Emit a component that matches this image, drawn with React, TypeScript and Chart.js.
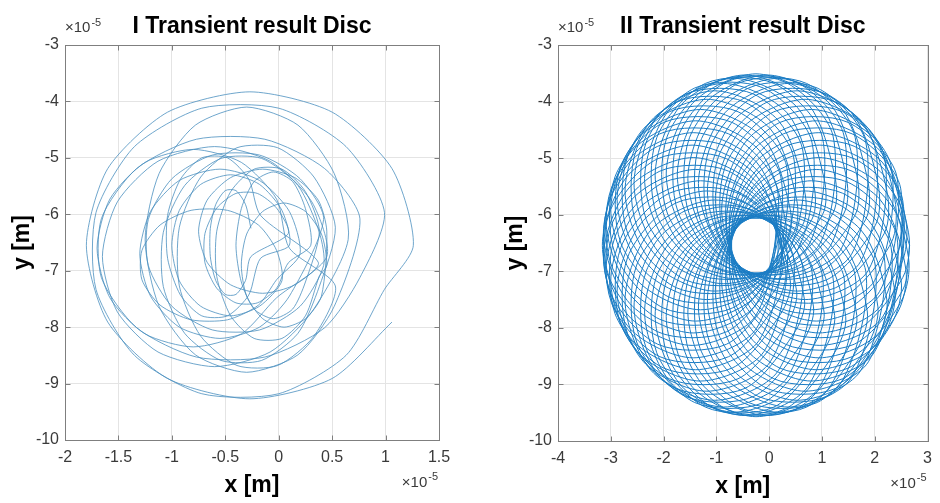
import React, { useEffect, useRef } from "react";
import { Chart, registerables } from "chart.js";

Chart.register(...registerables);

// ---- text ----
const TITLE_I = "I Transient result Disc";
const TITLE_II = "II Transient result Disc";
const X_LABEL = "x [m]";
const Y_LABEL = "y [m]";
const EXP_BASE = "\u00d710";
const EXP_POWER = "-5";

// ---- ticks (values in units of 1e-5 m) ----
const X_TICKS_I = [-2, -1.5, -1, -0.5, 0, 0.5, 1, 1.5];
const X_TICKS_II = [-4, -3, -2, -1, 0, 1, 2, 3];
const Y_TICKS = [-10, -9, -8, -7, -6, -5, -4, -3];

// ---- orbit I (x, y) in units of 1e-5 m ----
const ORBIT_I: number[][] = [
  [-0.26, -6.25], [-0.31, -5.83], [-0.4, -5.58], [-0.5, -5.58], [-0.59, -5.83], [-0.64, -6.25], [-0.64, -6.75], [-0.59, -7.17], [-0.5, -7.42], [-0.4, -7.42], [-0.31, -7.17], [-0.26, -6.75],
  [0.09, -6.34], [-0.02, -5.89], [-0.2, -5.63], [-0.4, -5.63], [-0.58, -5.89], [-0.69, -6.34], [-0.69, -6.86], [-0.58, -7.31], [-0.4, -7.57], [-0.2, -7.57], [-0.02, -7.31], [0.09, -6.86],
  [0.3, -6.55], [0.25, -5.9], [0.13, -5.42], [-0.05, -5.25], [-0.23, -5.42], [-0.35, -5.9], [-0.4, -6.55], [-0.35, -7.2], [-0.23, -7.68], [-0.05, -7.85], [0.13, -7.68], [0.25, -7.2],
  [0.38, -6.3], [0.25, -5.6], [0.03, -5.2], [-0.23, -5.2], [-0.45, -5.6], [-0.58, -6.3], [-0.58, -7.1], [-0.45, -7.8], [-0.23, -8.2], [0.03, -8.2], [0.25, -7.8], [0.38, -7.1],
  [0.45, -6.9], [0.4, -6.35], [0.25, -5.95], [0.05, -5.8], [-0.15, -5.95], [-0.3, -6.35], [-0.35, -6.9], [-0.3, -7.45], [-0.15, -7.85], [0.05, -8.0], [0.25, -7.85], [0.4, -7.45],
  [0.45, -6.3], [0.37, -5.75], [0.15, -5.35], [-0.15, -5.2], [-0.45, -5.35], [-0.67, -5.75], [-0.75, -6.3], [-0.67, -6.85], [-0.45, -7.25], [-0.15, -7.4], [0.15, -7.25], [0.37, -6.85],
  [-0.17, -6.02], [-0.28, -5.38], [-0.48, -5.0], [-0.72, -5.0], [-0.92, -5.38], [-1.04, -6.02], [-1.04, -6.78], [-0.92, -7.43], [-0.72, -7.8], [-0.48, -7.8], [-0.28, -7.43], [-0.17, -6.78],
  [0.1, -6.55], [0.03, -5.93], [-0.18, -5.47], [-0.45, -5.3], [-0.73, -5.47], [-0.93, -5.93], [-1.0, -6.55], [-0.93, -7.18], [-0.73, -7.63], [-0.45, -7.8], [-0.18, -7.63], [0.03, -7.18],
  [-0.02, -6.64], [-0.19, -6.19], [-0.48, -5.93], [-0.82, -5.93], [-1.11, -6.19], [-1.28, -6.64], [-1.28, -7.16], [-1.11, -7.61], [-0.82, -7.87], [-0.48, -7.87], [-0.19, -7.61], [-0.02, -7.16],
  [0.2, -6.7], [0.1, -5.95], [-0.18, -5.4], [-0.55, -5.2], [-0.93, -5.4], [-1.2, -5.95], [-1.3, -6.7], [-1.2, -7.45], [-0.93, -8.0], [-0.55, -8.2], [-0.18, -8.0], [0.1, -7.45],
  [0.42, -6.09], [0.2, -5.37], [-0.18, -4.95], [-0.62, -4.95], [-1.0, -5.37], [-1.22, -6.09], [-1.22, -6.91], [-1.0, -7.63], [-0.62, -8.05], [-0.18, -8.05], [0.2, -7.63], [0.42, -6.91],
  [0.38, -6.32], [0.18, -5.49], [-0.16, -5.01], [-0.54, -5.01], [-0.88, -5.49], [-1.08, -6.32], [-1.08, -7.28], [-0.88, -8.11], [-0.54, -8.59], [-0.16, -8.59], [0.18, -8.11], [0.38, -7.28],
  [0.53, -6.23], [0.33, -5.34], [-0.01, -4.82], [-0.39, -4.82], [-0.73, -5.34], [-0.93, -6.23], [-0.93, -7.27], [-0.73, -8.16], [-0.39, -8.68], [-0.01, -8.68], [0.33, -8.16], [0.53, -7.27],
  [0.1, -6.6], [-0.02, -5.73], [-0.35, -5.08], [-0.8, -4.85], [-1.25, -5.08], [-1.58, -5.73], [-1.7, -6.6], [-1.58, -7.48], [-1.25, -8.12], [-0.8, -8.35], [-0.35, -8.12], [-0.02, -7.48],
  [0.45, -6.75], [0.31, -5.78], [-0.08, -5.06], [-0.6, -4.8], [-1.13, -5.06], [-1.51, -5.78], [-1.65, -6.75], [-1.51, -7.73], [-1.13, -8.44], [-0.6, -8.7], [-0.08, -8.44], [0.31, -7.73],
  [0.65, -6.45], [0.52, -5.28], [0.18, -4.42], [-0.3, -4.1], [-0.78, -4.42], [-1.12, -5.28], [-1.25, -6.45], [-1.12, -7.63], [-0.78, -8.49], [-0.3, -8.8], [0.18, -8.49], [0.52, -7.63],
  [0.76, -6.08], [0.43, -5.19], [-0.13, -4.67], [-0.77, -4.67], [-1.33, -5.19], [-1.66, -6.08], [-1.66, -7.12], [-1.33, -8.01], [-0.77, -8.53], [-0.13, -8.53], [0.43, -8.01], [0.76, -7.12],
  [0.99, -5.97], [0.63, -4.8], [0.0, -4.12], [-0.72, -4.12], [-1.35, -4.8], [-1.71, -5.97], [-1.71, -7.33], [-1.35, -8.5], [-0.72, -9.18], [0.0, -9.18], [0.63, -8.5], [0.99, -7.33],
  [1.26, -6.55], [1.06, -5.19], [0.5, -4.19], [-0.27, -3.83], [-1.04, -4.19], [-1.6, -5.19], [-1.8, -6.55], [-1.6, -7.91], [-1.04, -8.91], [-0.27, -9.27], [0.5, -8.91], [1.06, -7.91],
];

// ---- orbit II (x, y) in units of 1e-5 m ----
const ORBIT_II: number[][] = [
  [2.66, -6.54], [2.16, -5.29], [0.96, -4.77], [-0.24, -5.29], [-0.74, -6.54], [-0.24, -7.79], [0.96, -8.31], [2.16, -7.79],
  [2.53, -5.75], [1.61, -4.79], [0.31, -4.79], [-0.61, -5.75], [-0.61, -7.11], [0.31, -8.07], [1.61, -8.07], [2.53, -7.11],
  [2.64, -6.32], [2.14, -5.07], [0.94, -4.55], [-0.26, -5.07], [-0.76, -6.32], [-0.26, -7.57], [0.94, -8.09], [2.14, -7.57],
  [2.49, -5.53], [1.57, -4.57], [0.27, -4.57], [-0.65, -5.53], [-0.65, -6.89], [0.27, -7.85], [1.57, -7.85], [2.49, -6.89],
  [2.59, -6.11], [2.09, -4.86], [0.89, -4.34], [-0.31, -4.86], [-0.81, -6.11], [-0.31, -7.36], [0.89, -7.88], [2.09, -7.36],
  [2.42, -5.33], [1.5, -4.37], [0.2, -4.37], [-0.72, -5.33], [-0.72, -6.69], [0.2, -7.65], [1.5, -7.65], [2.42, -6.69],
  [2.5, -5.91], [2.0, -4.66], [0.8, -4.14], [-0.4, -4.66], [-0.9, -5.91], [-0.4, -7.16], [0.8, -7.68], [2.0, -7.16],
  [2.31, -5.14], [1.39, -4.18], [0.09, -4.18], [-0.83, -5.14], [-0.83, -6.5], [0.09, -7.46], [1.39, -7.46], [2.31, -6.5],
  [2.38, -5.73], [1.88, -4.48], [0.68, -3.96], [-0.52, -4.48], [-1.02, -5.73], [-0.52, -6.98], [0.68, -7.5], [1.88, -6.98],
  [2.18, -4.97], [1.26, -4.01], [-0.04, -4.01], [-0.96, -4.97], [-0.96, -6.33], [-0.04, -7.29], [1.26, -7.29], [2.18, -6.33],
  [2.23, -5.58], [1.73, -4.33], [0.53, -3.81], [-0.67, -4.33], [-1.17, -5.58], [-0.67, -6.83], [0.53, -7.35], [1.73, -6.83],
  [2.01, -4.83], [1.09, -3.87], [-0.21, -3.87], [-1.13, -4.83], [-1.13, -6.19], [-0.21, -7.15], [1.09, -7.15], [2.01, -6.19],
  [2.06, -5.45], [1.56, -4.2], [0.36, -3.68], [-0.84, -4.2], [-1.34, -5.45], [-0.84, -6.7], [0.36, -7.22], [1.56, -6.7],
  [1.83, -4.72], [0.91, -3.76], [-0.39, -3.76], [-1.31, -4.72], [-1.31, -6.08], [-0.39, -7.04], [0.91, -7.04], [1.83, -6.08],
  [1.86, -5.36], [1.36, -4.11], [0.16, -3.59], [-1.04, -4.11], [-1.54, -5.36], [-1.04, -6.61], [0.16, -7.13], [1.36, -6.61],
  [1.63, -4.64], [0.71, -3.68], [-0.59, -3.68], [-1.51, -4.64], [-1.51, -6.0], [-0.59, -6.96], [0.71, -6.96], [1.63, -6.0],
  [1.66, -5.3], [1.16, -4.05], [-0.04, -3.53], [-1.24, -4.05], [-1.74, -5.3], [-1.24, -6.55], [-0.04, -7.07], [1.16, -6.55],
  [1.42, -4.61], [0.5, -3.65], [-0.8, -3.65], [-1.72, -4.61], [-1.72, -5.97], [-0.8, -6.93], [0.5, -6.93], [1.42, -5.97],
  [1.45, -5.28], [0.95, -4.03], [-0.25, -3.51], [-1.45, -4.03], [-1.95, -5.28], [-1.45, -6.53], [-0.25, -7.05], [0.95, -6.53],
  [1.21, -4.61], [0.29, -3.65], [-1.01, -3.65], [-1.93, -4.61], [-1.93, -5.97], [-1.01, -6.93], [0.29, -6.93], [1.21, -5.97],
  [1.24, -5.3], [0.74, -4.05], [-0.46, -3.53], [-1.66, -4.05], [-2.16, -5.3], [-1.66, -6.55], [-0.46, -7.07], [0.74, -6.55],
  [1.01, -4.64], [0.09, -3.68], [-1.21, -3.68], [-2.13, -4.64], [-2.13, -6.0], [-1.21, -6.96], [0.09, -6.96], [1.01, -6.0],
  [1.04, -5.36], [0.54, -4.11], [-0.66, -3.59], [-1.86, -4.11], [-2.36, -5.36], [-1.86, -6.61], [-0.66, -7.13], [0.54, -6.61],
  [0.81, -4.72], [-0.11, -3.76], [-1.41, -3.76], [-2.33, -4.72], [-2.33, -6.08], [-1.41, -7.04], [-0.11, -7.04], [0.81, -6.08],
  [0.84, -5.45], [0.34, -4.2], [-0.86, -3.68], [-2.06, -4.2], [-2.56, -5.45], [-2.06, -6.7], [-0.86, -7.22], [0.34, -6.7],
  [0.63, -4.83], [-0.29, -3.87], [-1.59, -3.87], [-2.51, -4.83], [-2.51, -6.19], [-1.59, -7.15], [-0.29, -7.15], [0.63, -6.19],
  [0.67, -5.58], [0.17, -4.33], [-1.03, -3.81], [-2.23, -4.33], [-2.73, -5.58], [-2.23, -6.83], [-1.03, -7.35], [0.17, -6.83],
  [0.46, -4.97], [-0.46, -4.01], [-1.76, -4.01], [-2.68, -4.97], [-2.68, -6.33], [-1.76, -7.29], [-0.46, -7.29], [0.46, -6.33],
  [0.52, -5.73], [0.02, -4.48], [-1.18, -3.96], [-2.38, -4.48], [-2.88, -5.73], [-2.38, -6.98], [-1.18, -7.5], [0.02, -6.98],
  [0.33, -5.14], [-0.59, -4.18], [-1.89, -4.18], [-2.81, -5.14], [-2.81, -6.5], [-1.89, -7.46], [-0.59, -7.46], [0.33, -6.5],
  [0.4, -5.91], [-0.1, -4.66], [-1.3, -4.14], [-2.5, -4.66], [-3.0, -5.91], [-2.5, -7.16], [-1.3, -7.68], [-0.1, -7.16],
  [0.22, -5.33], [-0.7, -4.37], [-2.0, -4.37], [-2.92, -5.33], [-2.92, -6.69], [-2.0, -7.65], [-0.7, -7.65], [0.22, -6.69],
  [0.31, -6.11], [-0.19, -4.86], [-1.39, -4.34], [-2.59, -4.86], [-3.09, -6.11], [-2.59, -7.36], [-1.39, -7.88], [-0.19, -7.36],
  [0.15, -5.53], [-0.77, -4.57], [-2.07, -4.57], [-2.99, -5.53], [-2.99, -6.89], [-2.07, -7.85], [-0.77, -7.85], [0.15, -6.89],
  [0.26, -6.32], [-0.24, -5.07], [-1.44, -4.55], [-2.64, -5.07], [-3.14, -6.32], [-2.64, -7.57], [-1.44, -8.09], [-0.24, -7.57],
  [0.11, -5.75], [-0.81, -4.79], [-2.11, -4.79], [-3.03, -5.75], [-3.03, -7.11], [-2.11, -8.07], [-0.81, -8.07], [0.11, -7.11],
  [0.24, -6.54], [-0.26, -5.29], [-1.46, -4.77], [-2.66, -5.29], [-3.16, -6.54], [-2.66, -7.79], [-1.46, -8.31], [-0.26, -7.79],
  [0.11, -5.97], [-0.81, -5.01], [-2.11, -5.01], [-3.03, -5.97], [-3.03, -7.33], [-2.11, -8.29], [-0.81, -8.29], [0.11, -7.33],
  [0.26, -6.76], [-0.24, -5.51], [-1.44, -4.99], [-2.64, -5.51], [-3.14, -6.76], [-2.64, -8.01], [-1.44, -8.53], [-0.24, -8.01],
  [0.15, -6.19], [-0.77, -5.23], [-2.07, -5.23], [-2.99, -6.19], [-2.99, -7.55], [-2.07, -8.51], [-0.77, -8.51], [0.15, -7.55],
  [0.31, -6.97], [-0.19, -5.72], [-1.39, -5.2], [-2.59, -5.72], [-3.09, -6.97], [-2.59, -8.22], [-1.39, -8.74], [-0.19, -8.22],
  [0.22, -6.39], [-0.7, -5.43], [-2.0, -5.43], [-2.92, -6.39], [-2.92, -7.75], [-2.0, -8.71], [-0.7, -8.71], [0.22, -7.75],
  [0.4, -7.17], [-0.1, -5.92], [-1.3, -5.4], [-2.5, -5.92], [-3.0, -7.17], [-2.5, -8.42], [-1.3, -8.94], [-0.1, -8.42],
  [0.33, -6.58], [-0.59, -5.62], [-1.89, -5.62], [-2.81, -6.58], [-2.81, -7.94], [-1.89, -8.9], [-0.59, -8.9], [0.33, -7.94],
  [0.52, -7.35], [0.02, -6.1], [-1.18, -5.58], [-2.38, -6.1], [-2.88, -7.35], [-2.38, -8.6], [-1.18, -9.12], [0.02, -8.6],
  [0.46, -6.75], [-0.46, -5.79], [-1.76, -5.79], [-2.68, -6.75], [-2.68, -8.11], [-1.76, -9.07], [-0.46, -9.07], [0.46, -8.11],
  [0.67, -7.51], [0.17, -6.26], [-1.03, -5.74], [-2.23, -6.26], [-2.73, -7.51], [-2.23, -8.76], [-1.03, -9.28], [0.17, -8.76],
  [0.63, -6.89], [-0.29, -5.93], [-1.59, -5.93], [-2.51, -6.89], [-2.51, -8.25], [-1.59, -9.21], [-0.29, -9.21], [0.63, -8.25],
  [0.84, -7.63], [0.34, -6.38], [-0.86, -5.86], [-2.06, -6.38], [-2.56, -7.63], [-2.06, -8.88], [-0.86, -9.4], [0.34, -8.88],
  [0.81, -7.0], [-0.11, -6.04], [-1.41, -6.04], [-2.33, -7.0], [-2.33, -8.36], [-1.41, -9.32], [-0.11, -9.32], [0.81, -8.36],
  [1.04, -7.72], [0.54, -6.47], [-0.66, -5.95], [-1.86, -6.47], [-2.36, -7.72], [-1.86, -8.97], [-0.66, -9.49], [0.54, -8.97],
  [1.01, -7.08], [0.09, -6.12], [-1.21, -6.12], [-2.13, -7.08], [-2.13, -8.44], [-1.21, -9.4], [0.09, -9.4], [1.01, -8.44],
  [1.24, -7.78], [0.74, -6.53], [-0.46, -6.01], [-1.66, -6.53], [-2.16, -7.78], [-1.66, -9.03], [-0.46, -9.55], [0.74, -9.03],
  [1.21, -7.12], [0.29, -6.16], [-1.01, -6.16], [-1.93, -7.12], [-1.93, -8.48], [-1.01, -9.44], [0.29, -9.44], [1.21, -8.48],
  [1.45, -7.8], [0.95, -6.55], [-0.25, -6.03], [-1.45, -6.55], [-1.95, -7.8], [-1.45, -9.05], [-0.25, -9.57], [0.95, -9.05],
  [1.42, -7.12], [0.5, -6.16], [-0.8, -6.16], [-1.72, -7.12], [-1.72, -8.48], [-0.8, -9.44], [0.5, -9.44], [1.42, -8.48],
  [1.66, -7.78], [1.16, -6.53], [-0.04, -6.01], [-1.24, -6.53], [-1.74, -7.78], [-1.24, -9.03], [-0.04, -9.55], [1.16, -9.03],
  [1.63, -7.08], [0.71, -6.12], [-0.59, -6.12], [-1.51, -7.08], [-1.51, -8.44], [-0.59, -9.4], [0.71, -9.4], [1.63, -8.44],
  [1.86, -7.72], [1.36, -6.47], [0.16, -5.95], [-1.04, -6.47], [-1.54, -7.72], [-1.04, -8.97], [0.16, -9.49], [1.36, -8.97],
  [1.83, -7.0], [0.91, -6.04], [-0.39, -6.04], [-1.31, -7.0], [-1.31, -8.36], [-0.39, -9.32], [0.91, -9.32], [1.83, -8.36],
  [2.06, -7.63], [1.56, -6.38], [0.36, -5.86], [-0.84, -6.38], [-1.34, -7.63], [-0.84, -8.88], [0.36, -9.4], [1.56, -8.88],
  [2.01, -6.89], [1.09, -5.93], [-0.21, -5.93], [-1.13, -6.89], [-1.13, -8.25], [-0.21, -9.21], [1.09, -9.21], [2.01, -8.25],
  [2.23, -7.51], [1.73, -6.26], [0.53, -5.74], [-0.67, -6.26], [-1.17, -7.51], [-0.67, -8.76], [0.53, -9.28], [1.73, -8.76],
  [2.18, -6.75], [1.26, -5.79], [-0.04, -5.79], [-0.96, -6.75], [-0.96, -8.11], [-0.04, -9.07], [1.26, -9.07], [2.18, -8.11],
  [2.38, -7.35], [1.88, -6.1], [0.68, -5.58], [-0.52, -6.1], [-1.02, -7.35], [-0.52, -8.6], [0.68, -9.12], [1.88, -8.6],
  [2.31, -6.58], [1.39, -5.62], [0.09, -5.62], [-0.83, -6.58], [-0.83, -7.94], [0.09, -8.9], [1.39, -8.9], [2.31, -7.94],
  [2.5, -7.17], [2.0, -5.92], [0.8, -5.4], [-0.4, -5.92], [-0.9, -7.17], [-0.4, -8.42], [0.8, -8.94], [2.0, -8.42],
  [2.42, -6.39], [1.5, -5.43], [0.2, -5.43], [-0.72, -6.39], [-0.72, -7.75], [0.2, -8.71], [1.5, -8.71], [2.42, -7.75],
  [2.59, -6.97], [2.09, -5.72], [0.89, -5.2], [-0.31, -5.72], [-0.81, -6.97], [-0.31, -8.22], [0.89, -8.74], [2.09, -8.22],
  [2.49, -6.19], [1.57, -5.23], [0.27, -5.23], [-0.65, -6.19], [-0.65, -7.55], [0.27, -8.51], [1.57, -8.51], [2.49, -7.55],
  [2.64, -6.76], [2.14, -5.51], [0.94, -4.99], [-0.26, -5.51], [-0.76, -6.76], [-0.26, -8.01], [0.94, -8.53], [2.14, -8.01],
  [2.53, -5.97], [1.61, -5.01], [0.31, -5.01], [-0.61, -5.97], [-0.61, -7.33], [0.31, -8.29], [1.61, -8.29], [2.53, -7.33],
  [2.66, -6.54],
];

const FAMILY = '"Liberation Sans", Arial, Helvetica, sans-serif';
const TICK_COLOR = "#3a3a3a";
const BOX_COLOR = "#7f7f7f";
const GRID_COLOR = "#e4e4e4";

const matlabBox = {
  id: "matlabBox",
  afterDraw(chart: any) {
    const { ctx, chartArea: a, scales } = chart;
    const L = Math.round(a.left) + 0.5;
    const T = Math.round(a.top) + 0.5;
    const R = Math.round(a.right) + 0.5;
    const B = Math.round(a.bottom) + 0.5;
    ctx.save();
    ctx.strokeStyle = BOX_COLOR;
    ctx.lineWidth = 1;
    ctx.strokeRect(L, T, R - L, B - T);
    const tl = 5;
    ctx.beginPath();
    scales.x.ticks.forEach((t: any) => {
      const px = Math.round(scales.x.getPixelForValue(t.value)) + 0.5;
      ctx.moveTo(px, B);
      ctx.lineTo(px, B - tl);
      ctx.moveTo(px, T);
      ctx.lineTo(px, T + tl);
    });
    scales.y.ticks.forEach((t: any) => {
      const py = Math.round(scales.y.getPixelForValue(t.value)) + 0.5;
      ctx.moveTo(L, py);
      ctx.lineTo(L + tl, py);
      ctx.moveTo(R, py);
      ctx.lineTo(R - tl, py);
    });
    ctx.stroke();

    // exponent labels
    ctx.fillStyle = TICK_COLOR;
    ctx.textBaseline = "middle";
    ctx.textAlign = "left";
    ctx.font = `15px ${FAMILY}`;
    const wBase = ctx.measureText(EXP_BASE).width;
    ctx.fillText(EXP_BASE, a.left, a.top - 17);
    ctx.font = `11px ${FAMILY}`;
    const wPow = ctx.measureText(EXP_POWER).width;
    ctx.fillText(EXP_POWER, a.left + wBase + 1, a.top - 22);

    const xr = a.right - 1 - wPow;
    ctx.fillText(EXP_POWER, xr, a.bottom + 37);
    ctx.font = `15px ${FAMILY}`;
    ctx.fillText(EXP_BASE, xr - 1 - wBase, a.bottom + 43);
    ctx.restore();
  },
};

function makeConfig(
  title: string,
  orbit: number[][],
  xMin: number,
  xMax: number,
  xTicks: number[],
  color: string,
  width: number,
  tension: number,
  padding: { left: number; right: number; bottom: number }
): any {
  const tickFont = { family: FAMILY, size: 16 };
  const titleFont = { family: FAMILY, size: 23, weight: "bold" as const };
  return {
    type: "scatter",
    data: {
      datasets: [
        {
          data: orbit.map(([x, y]) => ({ x, y })),
          showLine: true,
          borderColor: color,
          borderWidth: width,
          pointRadius: 0,
          tension,
          fill: false,
        },
      ],
    },
    options: {
      animation: false,
      responsive: false,
      events: [],
      layout: { padding: { left: padding.left, right: padding.right, top: 0, bottom: padding.bottom } },
      plugins: {
        legend: { display: false },
        tooltip: { enabled: false },
        title: {
          display: true,
          text: title,
          fullSize: false,
          color: "#000",
          font: titleFont,
          padding: { top: 13, bottom: 4.4 },
        },
      },
      scales: {
        x: {
          type: "linear",
          min: xMin,
          max: xMax,
          afterBuildTicks: (ax: any) => {
            ax.ticks = xTicks.map((v) => ({ value: v }));
          },
          afterFit: (s: any) => {
            s.height = 59;
          },
          grid: { color: GRID_COLOR, drawTicks: false, lineWidth: 1 },
          border: { display: false },
          ticks: { padding: 8, color: TICK_COLOR, font: tickFont, maxRotation: 0, callback: (v: any) => String(v) },
          title: { display: true, text: X_LABEL, color: "#000", font: titleFont, padding: { top: 0, bottom: 0 } },
        },
        y: {
          type: "linear",
          min: -10,
          max: -3,
          afterBuildTicks: (ax: any) => {
            ax.ticks = Y_TICKS.map((v) => ({ value: v }));
          },
          afterFit: (s: any) => {
            s.width = 65;
          },
          grid: { color: GRID_COLOR, drawTicks: false, lineWidth: 1 },
          border: { display: false },
          ticks: { padding: 6, color: TICK_COLOR, font: tickFont, callback: (v: any) => String(v) },
          title: { display: true, text: Y_LABEL, color: "#000", font: titleFont, padding: { top: 9, bottom: 0 } },
        },
      },
    },
    plugins: [matlabBox],
  };
}

export default function App() {
  const ref1 = useRef<HTMLCanvasElement | null>(null);
  const ref2 = useRef<HTMLCanvasElement | null>(null);

  useEffect(() => {
    const c1 = new Chart(
      ref1.current as HTMLCanvasElement,
      makeConfig(TITLE_I, ORBIT_I, -2, 1.5, X_TICKS_I, "#4a8fbf", 0.8, 0.25, { left: 0, right: 31, bottom: 4 })
    );
    const c2 = new Chart(
      ref2.current as HTMLCanvasElement,
      makeConfig(TITLE_II, ORBIT_II, -4, 3, X_TICKS_II, "#1a7cc4", 1.0, 0.3, { left: 23, right: 7, bottom: 3 })
    );
    return () => {
      c1.destroy();
      c2.destroy();
    };
  }, []);

  return (
    <div style={{ position: "fixed", left: 0, top: 0, width: 940, height: 503, background: "#fff" }}>
      <canvas ref={ref1} width={470} height={503} style={{ position: "absolute", left: 0, top: 0, width: 470, height: 503 }} />
      <canvas ref={ref2} width={470} height={503} style={{ position: "absolute", left: 470, top: 0, width: 470, height: 503 }} />
    </div>
  );
}
